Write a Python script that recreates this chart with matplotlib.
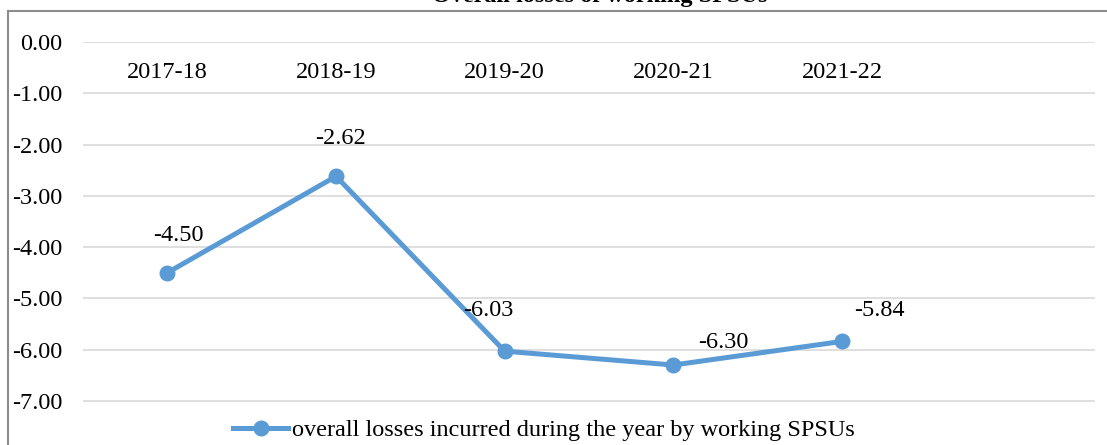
import matplotlib
matplotlib.use("Agg")
import matplotlib.pyplot as plt
from matplotlib.patches import Rectangle

years = ["2017-18", "2018-19", "2019-20", "2020-21", "2021-22"]
losses = [-4.50, -2.62, -6.03, -6.30, -5.84]
yticks = [0, -1, -2, -3, -4, -5, -6, -7]
series_name = "overall losses incurred during the year by working SPSUs"
title = "Overall losses of working SPSUs"

W, H = 1107, 445
plt.rcParams['font.family'] = ['Liberation Serif', 'DejaVu Serif']
fig = plt.figure(figsize=(W / 100, H / 100), dpi=100)

def fx(px):
    return px / W

def fy(py):
    return 1 - py / H

FS = 17.5

# outer frame
fig.patches.append(Rectangle((fx(8), fy(460)), fx(1120) - fx(8), fy(11) - fy(460),
                             transform=fig.transFigure, fill=False,
                             edgecolor='#8c8c8c', linewidth=1.5, zorder=0))

# title (mostly cut off at the top edge, as in the reference)
fig.text(fx(767), fy(2), title, ha='right', va='baseline', fontsize=FS,
         fontweight='bold', color='black')

ax = fig.add_axes([fx(83), 0, fx(1095) - fx(83), fy(42)])
ax.set_xlim(-0.5, 5.5)
ax.set_ylim(-7.86, 0)
for s in ax.spines.values():
    s.set_visible(False)
ax.set_yticks(yticks)
ax.set_yticklabels([f"{v:.2f}" for v in yticks], fontsize=FS)
ax.tick_params(axis='y', length=0, pad=15)
ax.set_xticks([])
ax.grid(axis='y', color='#d9d9d9', linewidth=1.2)
ax.set_axisbelow(True)

color = '#5b9bd5'
x = list(range(len(years)))
line, = ax.plot(x, losses, color=color, linewidth=3.6, marker='o', markersize=10.5,
                label=series_name, clip_on=False, zorder=3)

# category labels inside plot near top
for i, yr in enumerate(years):
    ax.text(i, -0.6, yr, ha='center', va='center', fontsize=FS)

# data labels offsets (in points)
offsets = [(8, 27), (3.6, 27), (-12, 29), (36, 16.5), (27, 22)]
for i, (v, off) in enumerate(zip(losses, offsets)):
    ax.annotate(f"{v:.2f}", (i, v), xytext=off, textcoords='offset points',
                ha='center', va='center', fontsize=FS)

leg = fig.legend(handles=[line], loc='center', bbox_to_anchor=(fx(544), fy(430)),
                 frameon=False, fontsize=FS, handlelength=2.26, handletextpad=0.16,
                 borderpad=0, borderaxespad=0)

fig.savefig("out.png", dpi=100)
